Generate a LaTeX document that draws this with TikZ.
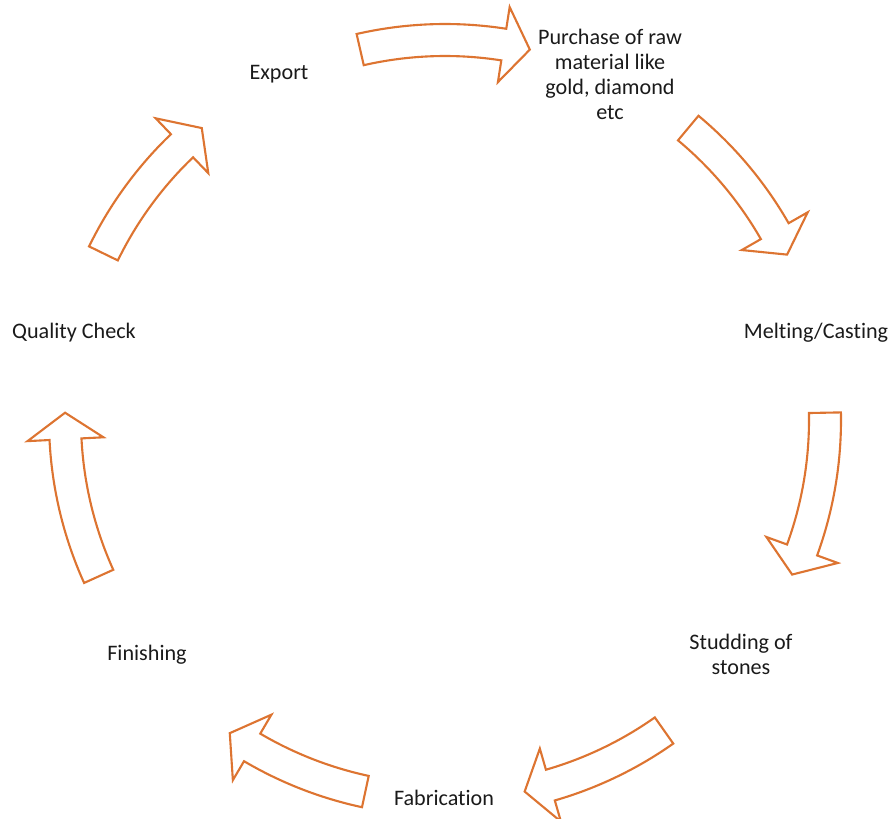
\documentclass[tikz,border=0pt]{standalone}
\usepackage{fontspec}
\setmainfont{Carlito}[RawFeature={-liga;-clig;-calt;-dlig}]
\usepackage{tikz}
\usetikzlibrary{positioning}
\definecolor{ringorange}{HTML}{DD7431}
\definecolor{ringblack}{HTML}{1A1A1A}

% curved block arrow on the ring: #1 tail angle, #2 tip angle
\newcommand{\ringarrow}[2]{%
  \draw[ring] (#1:7.92) arc[start angle=#1, end angle=#2+4, radius=7.92]
    -- (#2+4:8.36) -- (#2:7.6) -- (#2+4:6.84) -- (#2+4:7.28)
    arc[start angle=#2+4, end angle=#1, radius=7.28] -- cycle;}

\begin{document}
\begin{tikzpicture}[
        every node/.style={align=center, outer sep=0pt},
        stage/.style={text=ringblack, inner sep=1pt,
                      font=\fontsize{12.6}{14.2}\selectfont},
        ring/.style={draw=ringorange, fill=white, line width=1.2pt,
                     line join=miter, shift={(hub)}}
    ]
        \useasboundingbox (0,0) rectangle (17.82,16.36);
        \coordinate (hub) at (8.90,7.96);

        % --- Stages ---
        \node[stage] (raw)  at (12.20,14.88)
            {Purchase of raw\\material like\\gold, diamond\\etc};
        \node[stage] (melt) at (16.32,9.70) {Melting/Casting};
        \node[stage] (stud) at (14.82,3.28) {Studding of\\stones};
        \node[stage] (fab)  at (8.88,0.40)  {Fabrication};
        \node[stage] (fin)  at (2.94,3.26)  {Finishing};
        \node[stage] (qc)   at (1.48,9.70)  {Quality Check};
        \node[stage] (exp)  at (5.58,14.88) {Export};

        % --- Ring arrows ---
        \ringarrow{102.9}{77.1}
        \ringarrow{50.2}{25.8}
        \ringarrow{1.1}{-24.0}
        \ringarrow{-54.8}{-77.9}
        \ringarrow{-102.1}{-124.5}
        \ringarrow{-155.7}{-181.1}
        \ringarrow{154.0}{129.8}
    \end{tikzpicture}
\end{document}
